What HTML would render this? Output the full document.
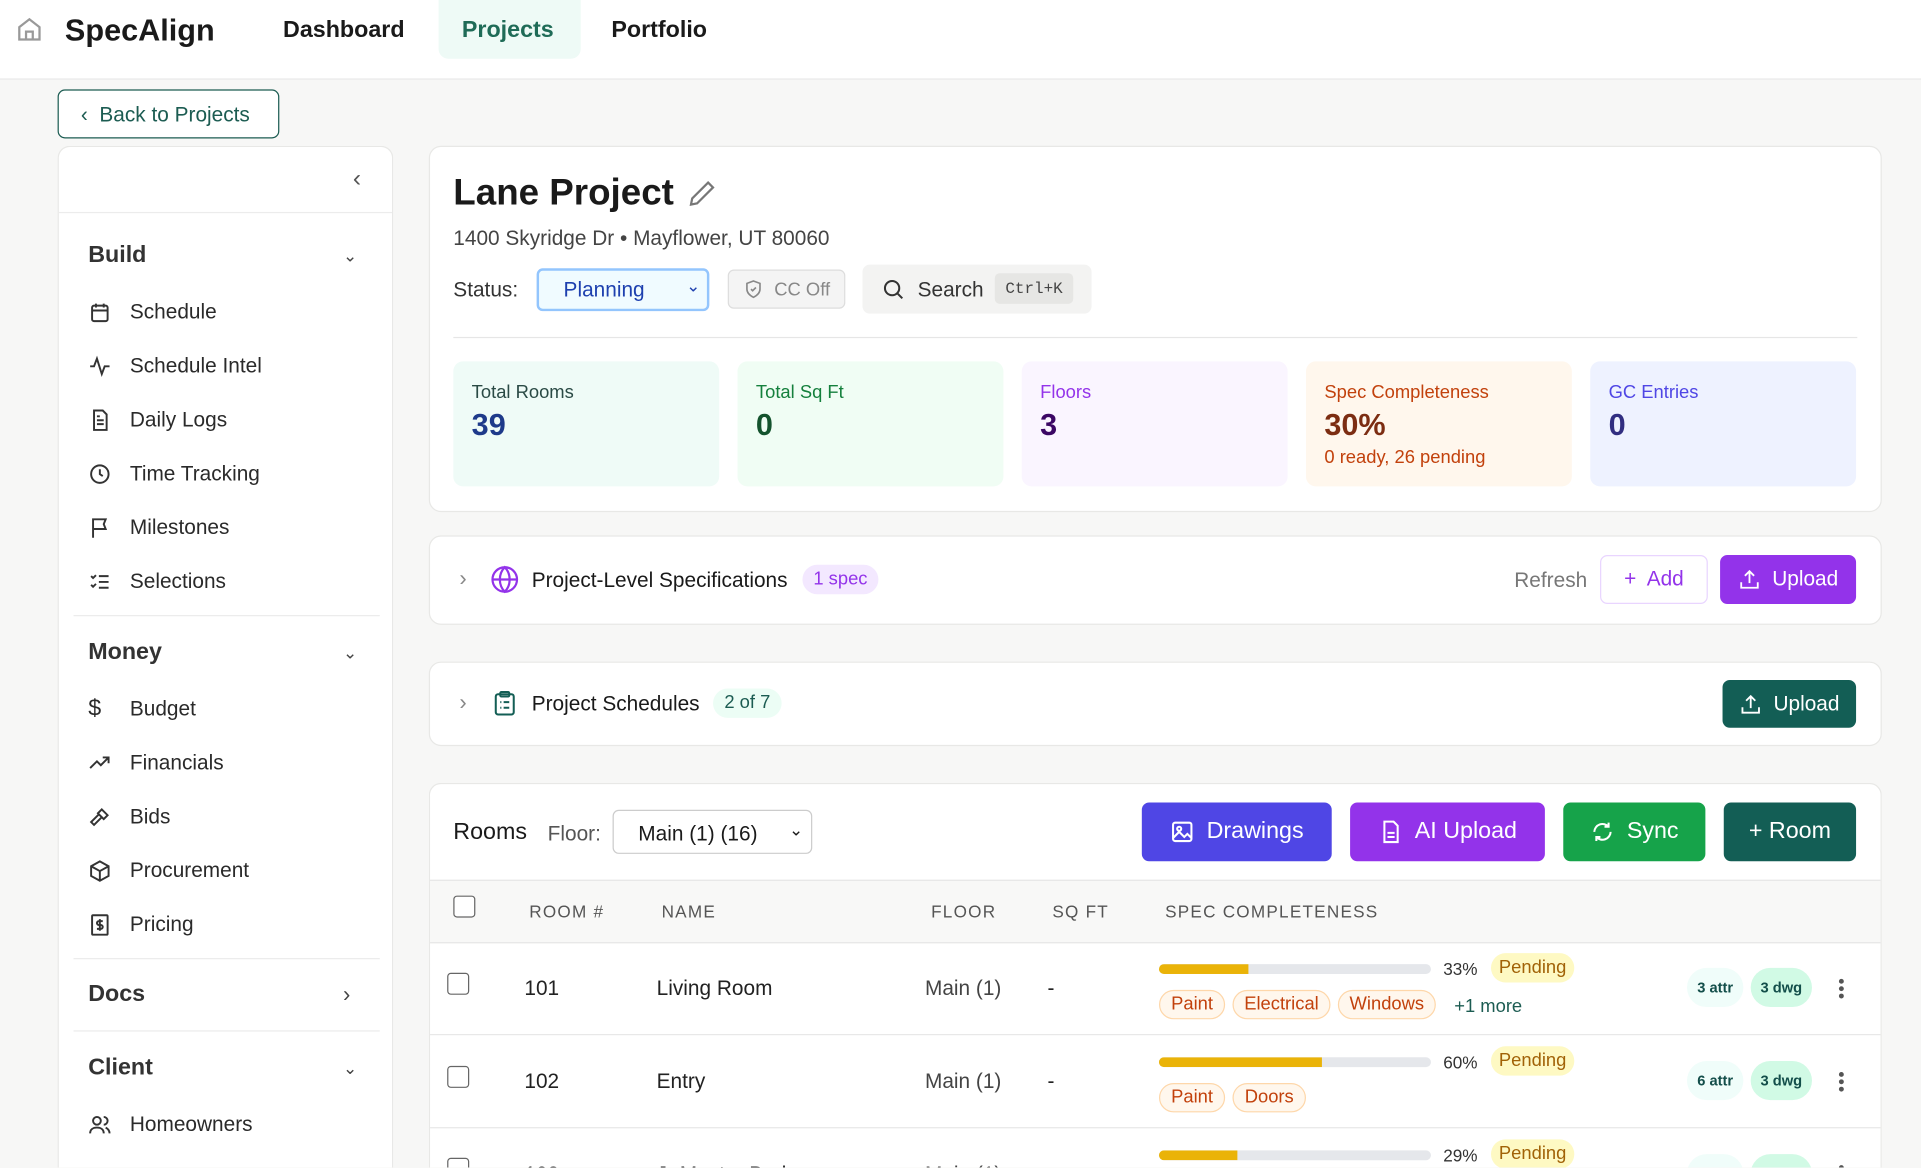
<!DOCTYPE html>
<html><head><meta charset="utf-8"><style>
html,body{margin:0;padding:0;width:1921px;height:1168px;overflow:hidden;background:#f7f7f6}
#w{position:absolute;left:0;top:0;width:1568px;height:953px;overflow:hidden;transform:scale(1.22513);transform-origin:0 0;font-family:"Liberation Sans",sans-serif;color:#1a1a1a}
.a{position:absolute;white-space:nowrap}
.card{position:absolute;background:#fff;border:1px solid #e8e8e6;border-radius:10px;box-sizing:border-box}
.it{position:absolute;left:106px;font-size:17px;color:#2a2a2a;transform:translateY(-50%)}
.ic{position:absolute;left:72px;width:19px;height:19px;transform:translateY(-50%)}
.sh{position:absolute;left:72px;font-size:19px;font-weight:bold;color:#333;transform:translateY(-50%)}
.chev{position:absolute;left:280px;font-size:14px;color:#444;transform:translateY(-50%)}
.sd{position:absolute;left:60px;width:250px;height:1px;background:#ececec}
.stat{position:absolute;top:295px;height:102px;width:217px;border-radius:8px}
.stat .l{position:absolute;left:15px;top:17px;font-size:15px}
.stat .v{position:absolute;left:15px;top:38px;font-size:25px;font-weight:bold}
.btn{position:absolute;border-radius:6px;color:#fff;font-size:19px;display:flex;align-items:center;justify-content:center;gap:10px;box-sizing:border-box}
.cb{position:absolute;width:18px;height:18px;border:1.5px solid #666;border-radius:3px;box-sizing:border-box;background:#fff}
.td{position:absolute;font-size:17px;color:#222;transform:translateY(-50%)}
.tag{position:absolute;height:24px;border:1px solid #fed7aa;background:#fff7ed;color:#c2410c;font-size:15px;border-radius:12px;box-sizing:border-box;line-height:22px;text-align:center}
.pend{position:absolute;height:24px;width:68px;background:#fef9c3;color:#a16207;font-size:15px;border-radius:12px;line-height:24px;text-align:center}
.bar{position:absolute;left:946px;width:222px;height:8px;border-radius:4px;background:#e5e7eb;overflow:hidden}
.bar i{display:block;height:8px;background:#eab308}
.pct{position:absolute;left:1178px;font-size:14px;color:#333}
.pill{position:absolute;height:32px;border-radius:16px;font-size:12px;font-weight:bold;line-height:32px;text-align:center}
.dots{position:absolute;left:1501px;width:4px}
.dots b{display:block;width:3.5px;height:3.5px;border-radius:2px;background:#555;margin-bottom:2.5px}
</style></head><body><div id="w">
<div class="a" style="left:0;top:0;width:1568px;height:64px;background:#fff;border-bottom:1px solid #e8e8e8"></div>
<svg class="a" style="left:13px;top:13px" width="22" height="22" viewBox="0 0 24 24" fill="none" stroke="#999" stroke-width="2"><path d="M3 10l9-7 9 7v11H3z"/><path d="M9 21v-7h6v7"/></svg>
<div class="a" style="left:53px;top:11px;font-size:25px;font-weight:bold">SpecAlign</div>
<div class="a" style="left:231px;top:14px;font-size:19px;font-weight:bold">Dashboard</div>
<div class="a" style="left:358px;top:0;width:116px;height:48px;background:#eefaf6;border-radius:0 0 8px 8px"></div>
<div class="a" style="left:377px;top:14px;font-size:19px;font-weight:bold;color:#1f6b57">Projects</div>
<div class="a" style="left:499px;top:14px;font-size:19px;font-weight:bold">Portfolio</div>
<div class="a" style="left:47px;top:73px;width:181px;height:40px;border:1.5px solid #1c5c52;border-radius:6px;box-sizing:border-box;background:#fff"></div>
<div class="a" style="left:66px;top:84px;font-size:17px;color:#1c5c52">‹&nbsp; Back to Projects</div>
<div class="card" style="left:47px;top:119px;width:274px;height:834px;border-bottom:none;border-radius:10px 10px 0 0"></div>
<div class="a" style="left:288px;top:135px;font-size:20px;color:#555">‹</div>
<div class="sd" style="left:48px;width:272px;top:173px"></div>
<div class="sh" style="top:209px">Build</div><div class="chev" style="top:209px">⌄</div>
<svg class="ic" style="top:255px" viewBox="0 0 24 24" fill="none" stroke="#333" stroke-width="2"><rect x="4" y="5" width="16" height="16" rx="2"/><path d="M4 10h16M8 3v4M16 3v4"/></svg><div class="it" style="top:255px">Schedule</div>
<svg class="ic" style="top:299px" viewBox="0 0 24 24" fill="none" stroke="#333" stroke-width="2"><path d="M2 12h4l3-8 5 16 3-8h5"/></svg><div class="it" style="top:299px">Schedule Intel</div>
<svg class="ic" style="top:343px" viewBox="0 0 24 24" fill="none" stroke="#333" stroke-width="2"><path d="M6 2h9l4 4v16H6z"/><path d="M9 12h7M9 16h7M9 8h3"/></svg><div class="it" style="top:343px">Daily Logs</div>
<svg class="ic" style="top:387px" viewBox="0 0 24 24" fill="none" stroke="#333" stroke-width="2"><circle cx="12" cy="12" r="9"/><path d="M12 7v5l3 2"/></svg><div class="it" style="top:387px">Time Tracking</div>
<svg class="ic" style="top:431px" viewBox="0 0 24 24" fill="none" stroke="#333" stroke-width="2"><path d="M5 22V3h13l-2 5 2 5H5"/></svg><div class="it" style="top:431px">Milestones</div>
<svg class="ic" style="top:475px" viewBox="0 0 24 24" fill="none" stroke="#333" stroke-width="2"><path d="M3 6l2 2 3-3M3 15l2 2 3-3M11 6h10M11 12h10M11 18h10"/></svg><div class="it" style="top:475px">Selections</div>
<div class="sd" style="top:502px"></div>
<div class="sh" style="top:533px">Money</div><div class="chev" style="top:533px">⌄</div>
<div class="it" style="left:72px;top:579px;font-size:19px">$</div><div class="it" style="top:579px">Budget</div>
<svg class="ic" style="top:623px" viewBox="0 0 24 24" fill="none" stroke="#333" stroke-width="2"><path d="M2 17l7-7 4 4 8-8M15 6h6v6"/></svg><div class="it" style="top:623px">Financials</div>
<svg class="ic" style="top:667px" viewBox="0 0 24 24" fill="none" stroke="#333" stroke-width="2"><path d="M14 4l6 6-4 4-6-6zM11 9l-8 8 3 3 8-8"/></svg><div class="it" style="top:667px">Bids</div>
<svg class="ic" style="top:711px" viewBox="0 0 24 24" fill="none" stroke="#333" stroke-width="2"><path d="M12 2l9 5v10l-9 5-9-5V7zM3 7l9 5 9-5M12 12v10"/></svg><div class="it" style="top:711px">Procurement</div>
<svg class="ic" style="top:755px" viewBox="0 0 24 24" fill="none" stroke="#333" stroke-width="2"><rect x="4" y="2" width="16" height="20" rx="1"/><path d="M12 6v12M15 8h-4a2 2 0 000 4h2a2 2 0 010 4H9"/></svg><div class="it" style="top:755px">Pricing</div>
<div class="sd" style="top:782px"></div>
<div class="sh" style="top:812px">Docs</div><div class="chev" style="top:812px;font-size:18px">›</div>
<div class="sd" style="top:841px"></div>
<div class="sh" style="top:872px">Client</div><div class="chev" style="top:872px">⌄</div>
<svg class="ic" style="top:918px" viewBox="0 0 24 24" fill="none" stroke="#333" stroke-width="2"><circle cx="9" cy="8" r="4"/><path d="M2 21c0-4 3-6 7-6s7 2 7 6M16 4a4 4 0 010 8M22 21c0-3-2-5-4-6"/></svg><div class="it" style="top:918px">Homeowners</div>
<div class="card" style="left:350px;top:119px;width:1186px;height:299px"></div>
<div class="a" style="left:370px;top:141px;font-size:30px;font-weight:bold">Lane Project</div>
<svg class="a" style="left:561px;top:146px" width="24" height="24" viewBox="0 0 24 24" fill="none" stroke="#777" stroke-width="1.8"><path d="M17 3l4 4L8 20l-5 1 1-5z"/></svg>
<div class="a" style="left:370px;top:185px;font-size:17px;color:#444">1400 Skyridge Dr • Mayflower, UT 80060</div>
<div class="a" style="left:370px;top:227px;font-size:17px;color:#333">Status:</div>
<div class="a" style="left:438px;top:219px;width:141px;height:35px;border:2px solid #93c5fd;border-radius:5px;background:#f0fbff;box-sizing:border-box"></div>
<div class="a" style="left:460px;top:227px;font-size:17px;color:#1e40af">Planning</div>
<div class="a" style="left:560px;top:225px;font-size:14px;color:#1e40af">⌄</div>
<div class="a" style="left:594px;top:220px;width:96px;height:32px;border:1px solid #ddd;background:#f4f4f4;border-radius:5px;box-sizing:border-box"></div>
<svg class="a" style="left:607px;top:228px" width="16" height="16" viewBox="0 0 24 24" fill="none" stroke="#888" stroke-width="2"><path d="M12 2l8 3v7c0 5-4 8-8 10-4-2-8-5-8-10V5z"/><path d="M9 12l2 2 4-4"/></svg>
<div class="a" style="left:632px;top:228px;font-size:15px;color:#888">CC Off</div>
<div class="a" style="left:704px;top:216px;width:187px;height:40px;background:#f3f3f2;border-radius:6px"></div>
<svg class="a" style="left:719px;top:226px" width="20" height="20" viewBox="0 0 24 24" fill="none" stroke="#333" stroke-width="2"><circle cx="11" cy="11" r="7"/><path d="M16 16l5 5"/></svg>
<div class="a" style="left:749px;top:227px;font-size:17px;color:#333">Search</div>
<div class="a" style="left:812px;top:223px;width:64px;height:25px;background:#e6e6e4;border-radius:4px;font-family:'Liberation Mono',monospace;font-size:13px;line-height:25px;text-align:center;color:#444">Ctrl+K</div>
<div class="a" style="left:370px;top:275px;width:1146px;height:1px;background:#e6e6e6"></div>
<div class="stat" style="left:370px;background:#effbf7"><div class="l" style="color:#2a4a45">Total Rooms</div><div class="v" style="color:#1e3a8a">39</div></div>
<div class="stat" style="left:602px;background:#f0fdf4"><div class="l" style="color:#15803d">Total Sq Ft</div><div class="v" style="color:#14532d">0</div></div>
<div class="stat" style="left:834px;background:#faf5ff"><div class="l" style="color:#9333ea">Floors</div><div class="v" style="color:#3b0764">3</div></div>
<div class="stat" style="left:1066px;background:#fff7ed"><div class="l" style="color:#c2410c">Spec Completeness</div><div class="v" style="color:#7c2d12">30%</div><div class="l" style="top:70px;color:#c2410c">0 ready, 26 pending</div></div>
<div class="stat" style="left:1298px;background:#eef2ff"><div class="l" style="color:#4f46e5">GC Entries</div><div class="v" style="color:#312e81">0</div></div>
<div class="card" style="left:350px;top:437px;width:1186px;height:73px"></div>
<div class="a" style="left:375px;top:462px;font-size:18px;color:#888">›</div>
<svg class="a" style="left:400px;top:461px" width="24" height="24" viewBox="0 0 24 24" fill="none" stroke="#9333ea" stroke-width="1.8"><circle cx="12" cy="12" r="10"/><path d="M2 12h20M12 2c3 3 4 6 4 10s-1 7-4 10c-3-3-4-6-4-10s1-7 4-10z"/></svg>
<div class="a" style="left:434px;top:464px;font-size:17px">Project-Level Specifications</div>
<div class="a" style="left:655px;top:461px;width:62px;height:24px;background:#f3e8ff;color:#9333ea;border-radius:12px;font-size:15px;line-height:24px;text-align:center">1 spec</div>
<div class="a" style="left:1236px;top:464px;font-size:17px;color:#777">Refresh</div>
<div class="a" style="left:1306px;top:453px;width:88px;height:40px;border:1px solid #e9d5ff;border-radius:6px;box-sizing:border-box;color:#9333ea;font-size:17px;line-height:38px;text-align:center">+&nbsp; Add</div>
<div class="btn" style="left:1404px;top:453px;width:111px;height:40px;background:#9333ea;font-size:17px"><svg width="18" height="18" viewBox="0 0 24 24" fill="none" stroke="#fff" stroke-width="2"><path d="M12 16V3M7 8l5-5 5 5M3 15v6h18v-6"/></svg>Upload</div>
<div class="card" style="left:350px;top:540px;width:1186px;height:69px"></div>
<div class="a" style="left:375px;top:563px;font-size:18px;color:#888">›</div>
<svg class="a" style="left:401px;top:562px" width="22" height="24" viewBox="0 0 24 24" fill="none" stroke="#135e55" stroke-width="1.8"><rect x="4" y="4" width="16" height="18" rx="2"/><rect x="8" y="2" width="8" height="4" rx="1"/><path d="M8 11h1M11 11h5M8 16h1M11 16h5"/></svg>
<div class="a" style="left:434px;top:565px;font-size:17px">Project Schedules</div>
<div class="a" style="left:582px;top:562px;width:56px;height:24px;background:#ecfdf5;color:#1c5c52;border-radius:12px;font-size:15px;line-height:24px;text-align:center">2 of 7</div>
<div class="btn" style="left:1406px;top:555px;width:109px;height:39px;background:#135e55;font-size:17px"><svg width="18" height="18" viewBox="0 0 24 24" fill="none" stroke="#fff" stroke-width="2"><path d="M12 16V3M7 8l5-5 5 5M3 15v6h18v-6"/></svg>Upload</div>
<div class="card" style="left:350px;top:639px;width:1186px;height:314px;border-bottom:none;border-radius:10px 10px 0 0"></div>
<div class="a" style="left:370px;top:669px;font-size:19px">Rooms</div>
<div class="a" style="left:447px;top:671px;font-size:17px;color:#555">Floor:</div>
<div class="a" style="left:500px;top:661px;width:163px;height:36px;border:1px solid #ccc;border-radius:5px;box-sizing:border-box;background:#fff"></div>
<div class="a" style="left:521px;top:671px;font-size:17px">Main (1) (16)</div>
<div class="a" style="left:644px;top:669px;font-size:14px">⌄</div>
<div class="btn" style="left:932px;top:655px;width:155px;height:48px;background:#4f46e5"><svg width="20" height="20" viewBox="0 0 24 24" fill="none" stroke="#fff" stroke-width="2"><rect x="3" y="3" width="18" height="18" rx="2"/><circle cx="9" cy="9" r="2"/><path d="M3 18l6-6 5 5 3-3 4 4"/></svg>Drawings</div>
<div class="btn" style="left:1102px;top:655px;width:159px;height:48px;background:#9333ea"><svg width="20" height="20" viewBox="0 0 24 24" fill="none" stroke="#fff" stroke-width="2"><path d="M6 2h9l4 4v16H6z"/><path d="M9 13h7M9 17h7"/></svg>AI Upload</div>
<div class="btn" style="left:1276px;top:655px;width:116px;height:48px;background:#16a34a"><svg width="20" height="20" viewBox="0 0 24 24" fill="none" stroke="#fff" stroke-width="2"><path d="M20 12a8 8 0 01-14 5M4 12a8 8 0 0114-5M18 3v4h-4M6 21v-4h4"/></svg>Sync</div>
<div class="btn" style="left:1407px;top:655px;width:108px;height:48px;background:#135e55">+ Room</div>
<div class="a" style="left:351px;top:718px;width:1184px;height:50px;background:#f8f8f7;border-top:1px solid #e6e6e6;border-bottom:1px solid #e6e6e6"></div>
<div class="cb" style="left:370px;top:731px"></div>
<div class="a" style="left:432px;top:736px;font-size:14px;color:#555;letter-spacing:1px">ROOM #</div>
<div class="a" style="left:540px;top:736px;font-size:14px;color:#555;letter-spacing:1px">NAME</div>
<div class="a" style="left:760px;top:736px;font-size:14px;color:#555;letter-spacing:1px">FLOOR</div>
<div class="a" style="left:859px;top:736px;font-size:14px;color:#555;letter-spacing:1px">SQ FT</div>
<div class="a" style="left:951px;top:736px;font-size:14px;color:#555;letter-spacing:1px">SPEC COMPLETENESS</div>
<div class="cb" style="left:365px;top:794px"></div>
<div class="td" style="left:428px;top:807px">101</div><div class="td" style="left:536px;top:807px">Living Room</div><div class="td" style="left:755px;top:807px;color:#444">Main (1)</div><div class="td" style="left:855px;top:807px">-</div>
<div class="bar" style="top:787px"><i style="width:33%"></i></div><div class="pct" style="top:783px">33%</div><div class="pend" style="left:1217px;top:778px">Pending</div>
<div class="tag" style="left:946px;top:808px;width:54px">Paint</div><div class="tag" style="left:1006px;top:808px;width:80px">Electrical</div><div class="tag" style="left:1092px;top:808px;width:80px">Windows</div>
<div class="a" style="left:1187px;top:813px;font-size:15px;color:#1c5c52">+1 more</div>
<div class="pill" style="left:1377px;top:790px;width:46px;background:#f0fdfa;color:#134e4a">3 attr</div><div class="pill" style="left:1429px;top:790px;width:50px;background:#d1fae5;color:#134e4a">3 dwg</div>
<div class="dots" style="top:799px"><b></b><b></b><b></b></div>
<div class="a" style="left:351px;top:844px;width:1184px;height:1px;background:#e8e8e8"></div>
<div class="cb" style="left:365px;top:870px"></div>
<div class="td" style="left:428px;top:883px">102</div><div class="td" style="left:536px;top:883px">Entry</div><div class="td" style="left:755px;top:883px;color:#444">Main (1)</div><div class="td" style="left:855px;top:883px">-</div>
<div class="bar" style="top:863px"><i style="width:60%"></i></div><div class="pct" style="top:859px">60%</div><div class="pend" style="left:1217px;top:854px">Pending</div>
<div class="tag" style="left:946px;top:884px;width:54px">Paint</div><div class="tag" style="left:1006px;top:884px;width:60px">Doors</div>
<div class="pill" style="left:1377px;top:866px;width:46px;background:#f0fdfa;color:#134e4a">6 attr</div><div class="pill" style="left:1429px;top:866px;width:50px;background:#d1fae5;color:#134e4a">3 dwg</div>
<div class="dots" style="top:875px"><b></b><b></b><b></b></div>
<div class="a" style="left:351px;top:920px;width:1184px;height:1px;background:#e8e8e8"></div>
<div class="a" style="left:351px;top:921px;width:1184px;height:32px;overflow:hidden">
<div class="cb" style="left:14px;top:24px"></div>
<div class="td" style="left:77px;top:38px">103</div><div class="td" style="left:185px;top:38px">Jr Master Bedroom</div><div class="td" style="left:404px;top:38px;color:#444">Main (1)</div>
<div class="bar" style="left:595px;top:18px"><i style="width:29%"></i></div><div class="pct" style="left:827px;top:14px">29%</div><div class="pend" style="left:866px;top:9px">Pending</div>
<div class="pill" style="left:1026px;top:21px;width:46px;background:#f0fdfa"></div><div class="pill" style="left:1078px;top:21px;width:50px;background:#d1fae5"></div>
<div class="dots" style="left:1150px;top:30px"><b></b></div>
</div>
</div></body></html>
